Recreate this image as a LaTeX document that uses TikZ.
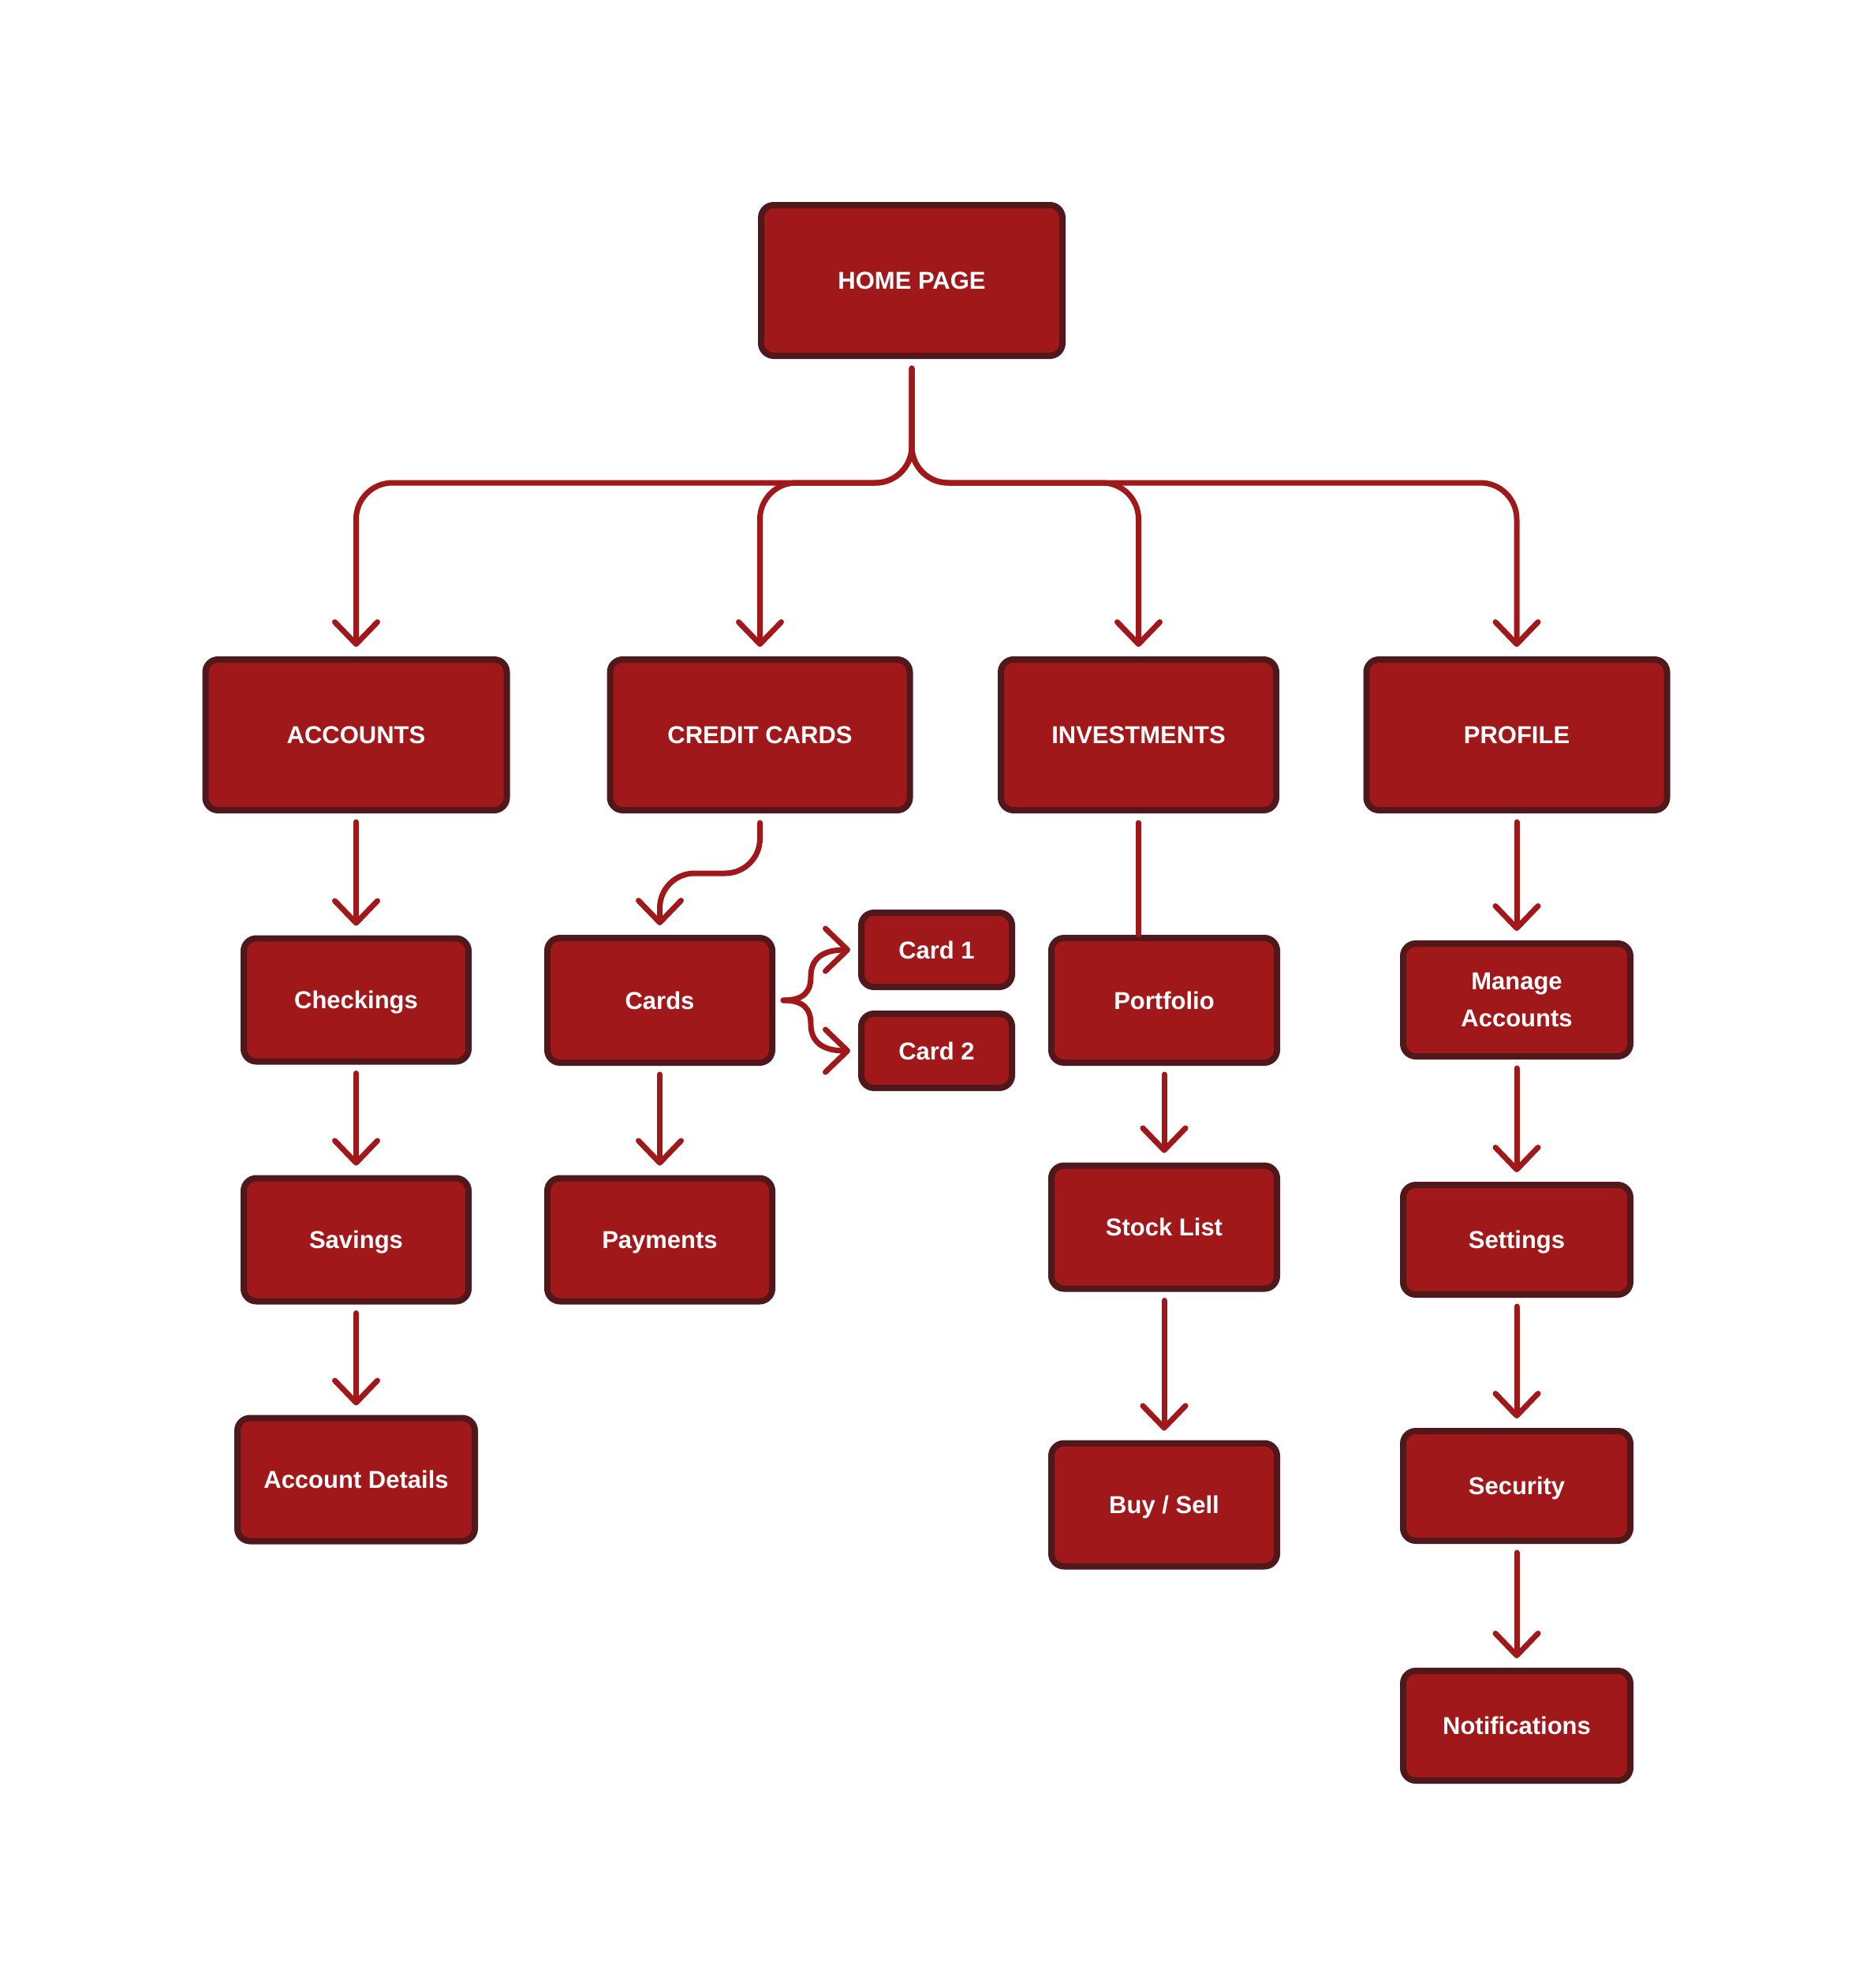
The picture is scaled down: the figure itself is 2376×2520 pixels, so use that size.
\documentclass[tikz,border=0pt]{standalone}
\usepackage{fontspec}
\setmainfont{Liberation Sans}
\usetikzlibrary{arrows.meta}
\definecolor{boxred}{HTML}{A1181B}
\definecolor{boxdark}{HTML}{50181A}
\definecolor{linered}{HTML}{A1181B}
\tikzset{
  boxbase/.style={rectangle, rounded corners=16pt, fill=boxred, draw=boxdark, line width=8pt,
    text=white, font=\bfseries\fontsize{31}{47}\selectfont, align=center, inner sep=0pt},
  box/.style={boxbase, text height=22pt, text depth=0pt},
  conn/.style={draw=linered, line width=7pt, line cap=round, line join=round,
    -{Straight Barb[length=28pt,width=54pt,line cap=round,line join=round]}},
  plainconn/.style={draw=linered, line width=7pt, line cap=round},
}
\newcommand{\bx}[6]{\node[box, minimum width=#4pt-8pt, minimum height=#5pt-8pt] (#1) at (#2,#3) {#6};}
\begin{document}
\begin{tikzpicture}[x=1pt,y=-1pt]
\fill[white] (0,0) rectangle (2376,2520);
\useasboundingbox (0,0) rectangle (2376,2520);
% level 0
\bx{home}{1156}{355.5}{390}{199}{HOME PAGE}
% level 1
\bx{acc}{451.5}{931.5}{390}{199}{ACCOUNTS}
\bx{cc}{963.5}{931.5}{388}{199}{CREDIT CARDS}
\bx{inv}{1443.5}{931.5}{357}{199}{INVESTMENTS}
\bx{prof}{1923}{931.5}{389}{199}{PROFILE}
% level 2
\bx{chk}{451.5}{1267.5}{293}{164}{Checkings}
\bx{cards}{836.5}{1268}{293}{166}{Cards}
\bx{card1}{1187.5}{1204}{199}{102}{Card 1}
\bx{card2}{1187.5}{1332}{199}{102}{Card 2}
\bx{port}{1476}{1268}{294}{166}{Portfolio}
\node[boxbase, minimum width=288pt, minimum height=143pt] (mng) at (1923,1267.5) {Manage\\Accounts};
% level 3
\bx{sav}{451.5}{1571.5}{293}{164}{Savings}
\bx{pay}{836.5}{1571.5}{293}{164}{Payments}
\bx{stock}{1476}{1555.5}{294}{164}{Stock List}
\bx{set}{1923}{1571.5}{296}{147}{Settings}
% level 4
\bx{accd}{451.5}{1875.5}{309}{164}{Account Details}
\bx{buy}{1476}{1907.5}{294}{164}{Buy / Sell}
\bx{sec}{1923}{1883.5}{296}{147}{Security}
\bx{notif}{1923}{2187.5}{296}{147}{Notifications}
% tree from home
\coordinate (j) at (1156,612);
\foreach \t in {acc,cc,inv,prof}{
  \draw[conn, rounded corners=46pt] ([yshift=-12pt]home.south) -- (j) -| ([yshift=12pt]\t.north);
}
% vertical chains
\draw[conn] ([yshift=-11pt]acc.south) -- ([yshift=12pt]chk.north);
\draw[conn] ([yshift=-11pt]chk.south) -- ([yshift=12pt]sav.north);
\draw[conn] ([yshift=-11pt]sav.south) -- ([yshift=12pt]accd.north);
\draw[conn] ([yshift=-11pt]cards.south) -- ([yshift=12pt]pay.north);
\draw[conn] ([yshift=-11pt]port.south) -- ([yshift=12pt]stock.north);
\draw[conn] ([yshift=-11pt]stock.south) -- ([yshift=12pt]buy.north);
\draw[conn] ([yshift=-11pt]prof.south) -- ([yshift=12pt]mng.north);
\draw[conn] ([yshift=-11pt]mng.south) -- ([yshift=12pt]set.north);
\draw[conn] ([yshift=-11pt]set.south) -- ([yshift=12pt]sec.north);
\draw[conn] ([yshift=-11pt]sec.south) -- ([yshift=12pt]notif.north);
% investments -> portfolio (no head)
\draw[plainconn] ([yshift=-12pt]inv.south) -- (inv.south |- port.north);
% credit cards -> cards
\coordinate (ccm) at (900,1107);
\draw[conn, rounded corners=44pt] ([yshift=-12pt]cc.south) -- (cc.south |- ccm) -- (cards.north |- ccm) -- ([yshift=12pt]cards.north);
% cards -> card1 / card2
\coordinate (bs) at (993,1268);
\coordinate (t1) at (1078,1204);
\coordinate (t2) at (1078,1332);
\draw[conn] (bs) .. controls (1018,1268) and (1028,1258) .. (1028,1238)
  .. controls (1028,1216) and (1042,1204) .. (t1);
\draw[conn] (bs) .. controls (1018,1268) and (1028,1278) .. (1028,1298)
  .. controls (1028,1320) and (1042,1332) .. (t2);
\end{tikzpicture}
\end{document}
